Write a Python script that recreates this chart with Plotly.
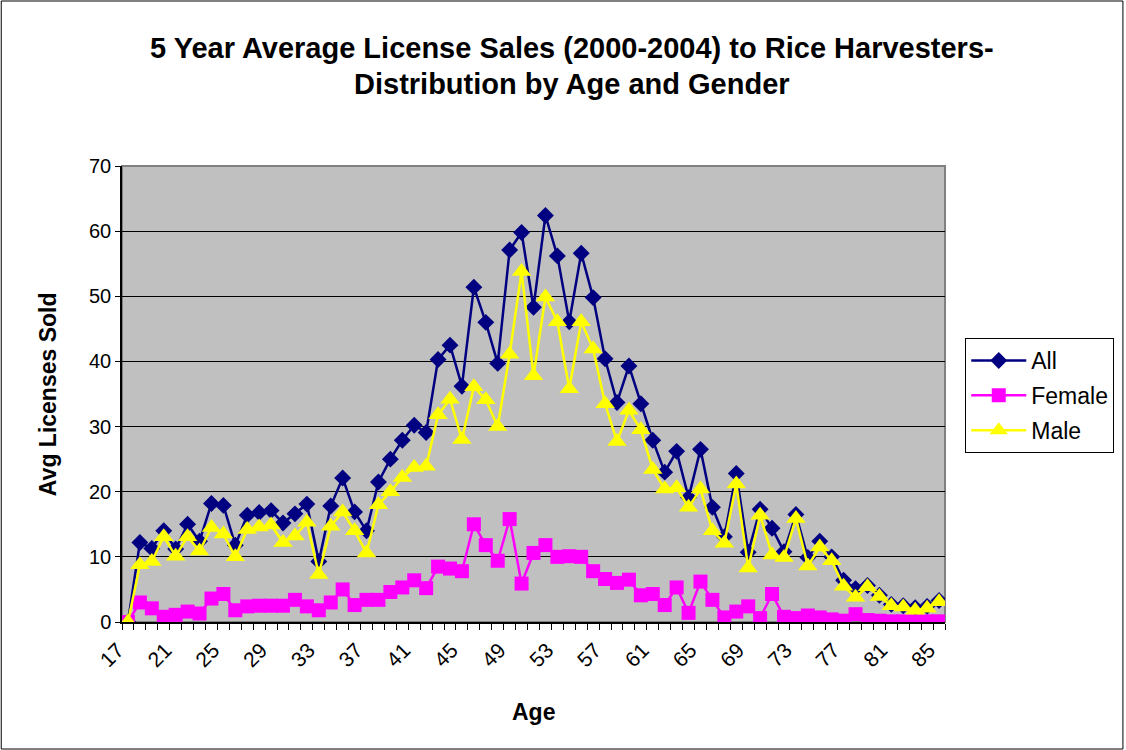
import plotly.graph_objects as go

ages = list(range(17, 86))
all_vals = [0, 12.2, 11.3, 14.0, 11.2, 15.0, 12.4, 18.2, 17.9, 11.8, 16.4, 16.8, 17.1, 15.2,
            16.6, 18.1, 9.3, 17.8, 22.1, 16.9, 14.0, 21.5, 25.0, 27.9, 30.2, 29.1, 40.3,
            42.5, 36.2, 51.4, 46.0, 39.7, 57.1, 59.8, 48.3, 62.4, 56.2, 46.1, 56.6, 49.8,
            40.4, 33.7, 39.3, 33.5, 27.9, 23.0, 26.2, 19.1, 26.5, 17.6, 13.1, 22.8, 10.7,
            17.3, 14.4, 10.8, 16.5, 9.9, 12.4, 10.0, 6.4, 5.1, 5.6, 4.1, 2.7, 2.5, 2.2, 2.4, 3.3]
female_vals = [0, 3.0, 2.1, 0.8, 1.1, 1.6, 1.3, 3.6, 4.3, 1.8, 2.4, 2.5, 2.5, 2.5,
               3.4, 2.4, 1.8, 3.0, 5.0, 2.6, 3.4, 3.4, 4.6, 5.3, 6.4, 5.2, 8.5,
               8.2, 7.8, 15.0, 11.8, 9.4, 15.8, 5.9, 10.6, 11.8, 10.0, 10.1, 10.0, 7.8,
               6.6, 6.0, 6.5, 4.1, 4.3, 2.6, 5.3, 1.4, 6.2, 3.4, 0.7, 1.6, 2.4,
               0.6, 4.3, 0.8, 0.6, 1.0, 0.7, 0.4, 0.2, 1.2, 0.3, 0.2, 0.1, 0.1, 0.1, 0.1, 0.1]
male_vals = [0, 8.8, 9.3, 13.1, 10.1, 13.1, 10.9, 14.5, 13.5, 10.0, 14.2, 14.6, 14.9, 12.2,
             13.2, 15.3, 7.3, 14.7, 16.9, 14.0, 10.6, 18.0, 20.0, 22.2, 23.7, 23.9, 31.8,
             34.2, 28.0, 36.1, 34.1, 30.0, 41.1, 53.8, 37.8, 49.9, 46.1, 35.8, 46.1, 41.9,
             33.5, 27.7, 32.5, 29.5, 23.4, 20.4, 20.6, 17.6, 20.4, 14.0, 12.1, 21.2, 8.3,
             16.4, 10.3, 9.9, 15.9, 8.6, 11.5, 9.4, 5.5, 3.8, 5.4, 3.9, 2.5, 2.3, 1.8, 2.1, 3.1]
tick_ages = list(range(17, 86, 4))

FONT = "Arial, Liberation Sans, sans-serif"

fig = go.Figure()
fig.add_trace(go.Scatter(x=ages, y=all_vals, name="All", mode="lines+markers",
                         line=dict(color="#000080", width=2.5),
                         marker=dict(symbol="diamond", size=13, color="#000080"),
                         legendgroup="a"))
fig.add_trace(go.Scatter(x=ages, y=female_vals, name="Female", mode="lines+markers",
                         line=dict(color="#FF00FF", width=2.5),
                         marker=dict(symbol="square", size=14, color="#FF00FF"),
                         legendgroup="f"))
fig.add_trace(go.Scatter(x=ages, y=male_vals, name="Male", mode="lines+markers",
                         line=dict(color="#FFFF00", width=2.5),
                         marker=dict(symbol="triangle-up", size=17, color="#FFFF00"),
                         legendgroup="m"))

L, R, T, B = 122, 946.7, 166, 622
W, H = 1126, 750
pw, ph = R - L, B - T

def px(x):
    return (x - L) / pw

def py(y):
    return (B - y) / ph

fig.update_layout(
    width=W, height=H,
    margin=dict(l=L, r=W - R, t=T, b=H - B, pad=0),
    paper_bgcolor="white",
    plot_bgcolor="#C0C0C0",
    font=dict(family=FONT, color="black", size=20),
    showlegend=True,
    legend=dict(x=px(967), y=py(338), xanchor="left", yanchor="top",
                bgcolor="white", bordercolor="black", borderwidth=1,
                font=dict(size=23, family=FONT), tracegroupgap=2,
                traceorder="grouped", itemwidth=55),
    xaxis=dict(range=[16.5, 85.5], tickmode="array", tickvals=tick_ages,
               ticktext=[str(a) for a in tick_ages], tickangle=-45,
               ticks="outside", ticklen=0, tickcolor="black", ticklabelshift=-10,
               ticklabelstandoff=6,
               minor=dict(tickmode="linear", tick0=16.5, dtick=1, ticks="outside",
                          ticklen=6, tickcolor="black", showgrid=False),
               showgrid=False, zeroline=False, showline=True, linecolor="black",
               linewidth=1.5, tickfont=dict(size=21, family=FONT)),
    yaxis=dict(range=[0, 70], dtick=10, tick0=0, ticks="outside", ticklen=5,
               tickcolor="black", showgrid=True, gridcolor="black", gridwidth=1,
               zeroline=False, showline=True, linecolor="black", linewidth=1.5,
               tickfont=dict(size=20, family=FONT)),
    shapes=[
        dict(type="rect", xref="paper", yref="paper", x0=0, x1=1, y0=0, y1=1,
             line=dict(color="#808080", width=2), layer="below"),
        dict(type="rect", xref="paper", yref="paper", x0=px(1), x1=px(1125),
             y0=py(749), y1=py(1), line=dict(color="black", width=1)),
    ],
    annotations=[
        dict(text="<b>5 Year Average License Sales (2000-2004) to Rice Harvesters-</b>",
             xref="paper", yref="paper", x=px(573), y=py(48), xanchor="center",
             yanchor="middle", showarrow=False, font=dict(size=29, family=FONT)),
        dict(text="<b>Distribution by Age and Gender</b>",
             xref="paper", yref="paper", x=px(573), y=py(84), xanchor="center",
             yanchor="middle", showarrow=False, font=dict(size=29, family=FONT)),
        dict(text="<b>Age</b>", xref="paper", yref="paper", x=px(534), y=py(712),
             xanchor="center", yanchor="middle", showarrow=False,
             font=dict(size=23, family=FONT)),
        dict(text="<b>Avg Licenses Sold</b>", xref="paper", yref="paper", x=px(48),
             y=py(394), xanchor="center", yanchor="middle", showarrow=False,
             textangle=-90, font=dict(size=23, family=FONT)),
    ],
)

fig.write_html("out.html", config={"displayModeBar": False},
               post_script="document.body.style.margin='0px';")
